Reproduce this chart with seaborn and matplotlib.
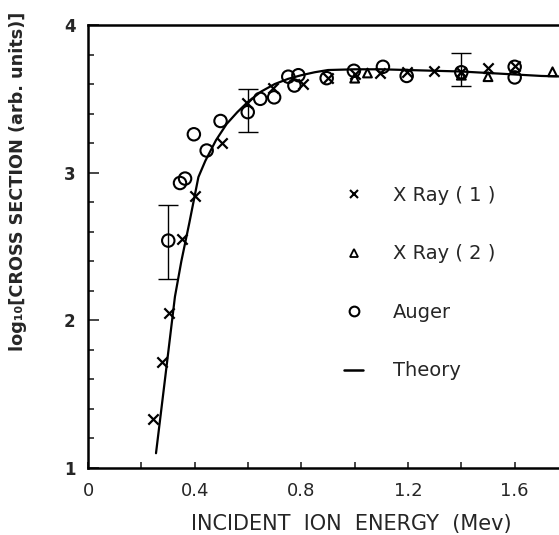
import numpy as np
import matplotlib.pyplot as plt
import seaborn as sns
from matplotlib.lines import Line2D
from matplotlib.ticker import MultipleLocator

# incident ion energy (MeV) and log10 cross section
xray1_e = [0.244, 0.276, 0.305, 0.351, 0.401, 0.501, 0.595, 0.695, 0.805,
           0.90, 1.00, 1.095, 1.195, 1.297, 1.40, 1.50, 1.60]
xray1_y = [1.33, 1.72, 2.05, 2.55, 2.84, 3.20, 3.47, 3.57, 3.60,
           3.64, 3.67, 3.675, 3.685, 3.69, 3.68, 3.71, 3.72]

xray2_e = [1.00, 1.048, 1.40, 1.50, 1.742]
xray2_y = [3.64, 3.675, 3.66, 3.65, 3.683]

auger_e = [0.301, 0.345, 0.364, 0.397, 0.445, 0.497, 0.599, 0.646, 0.698,
           0.751, 0.774, 0.789, 0.895, 0.997, 1.106, 1.195, 1.40, 1.60, 1.60]
auger_y = [2.54, 2.93, 2.96, 3.26, 3.15, 3.35, 3.41, 3.50, 3.51,
           3.65, 3.59, 3.66, 3.64, 3.69, 3.717, 3.655, 3.68, 3.717, 3.645]

# error bars on three auger points
err_e = [0.301, 0.599, 1.40]
err_y = [2.53, 3.42, 3.697]
err_d = [0.25, 0.147, 0.111]

theory_e = [0.255, 0.29, 0.326, 0.35, 0.38, 0.414, 0.44, 0.48, 0.52, 0.56,
            0.60, 0.65, 0.70, 0.75, 0.80, 0.85, 0.90, 1.0, 1.1, 1.2, 1.3,
            1.4, 1.5, 1.6, 1.7, 1.8]
theory_y = [1.10, 1.62, 2.16, 2.40, 2.66, 2.97, 3.08, 3.22, 3.33, 3.41,
            3.48, 3.55, 3.60, 3.635, 3.66, 3.68, 3.695, 3.70, 3.70, 3.695,
            3.69, 3.685, 3.675, 3.665, 3.655, 3.65]

legend_labels = ['X Ray ( 1 )', 'X Ray ( 2 )', 'Auger', 'Theory']
x_ticks = [0, 0.4, 0.8, 1.2, 1.6]
x_ticklabels = ['0', '0.4', '0.8', '1.2', '1.6']
y_ticks = [1, 2, 3, 4]

sns.set_style('ticks', {'xtick.direction': 'in', 'ytick.direction': 'in'})
plt.rcParams['font.family'] = ['DejaVu Sans']

fig = plt.figure(figsize=(5.59, 5.35), dpi=100)
ax = fig.add_axes([88 / 559, 67 / 535, 480 / 559, 443 / 535])

sns.lineplot(x=theory_e, y=theory_y, ax=ax, color='black', lw=1.6,
             sort=False, estimator=None)
sns.scatterplot(x=xray1_e, y=xray1_y, ax=ax, marker='x', s=55,
                color='black', linewidth=1.6)
sns.scatterplot(x=xray2_e, y=xray2_y, ax=ax, marker='^', s=40,
                color='black', facecolor='none', edgecolor='black', linewidth=1.5)
sns.scatterplot(x=auger_e, y=auger_y, ax=ax, marker='o', s=80,
                color='black', facecolor='none', edgecolor='black', linewidth=1.5)
ax.errorbar(err_e, err_y, yerr=err_d, fmt='none', ecolor='black',
            elinewidth=1.0, capsize=7, capthick=1.0)

ax.set_xlim(0, 1.8)
ax.set_ylim(1, 4)
ax.set_xticks(x_ticks)
ax.set_xticklabels(x_ticklabels)
ax.xaxis.set_minor_locator(MultipleLocator(0.2))
ax.set_yticks(y_ticks)
ax.yaxis.set_minor_locator(MultipleLocator(0.2))

ax.tick_params(axis='x', which='both', direction='in', length=4, width=1.2,
               labelsize=13, pad=10)
ax.tick_params(axis='y', which='major', direction='in', length=8, width=1.2,
               labelsize=12, pad=9)
ax.tick_params(axis='y', which='minor', direction='in', length=4, width=1.2)
for lab in ax.get_yticklabels():
    lab.set_fontweight('bold')

for side in ['left', 'bottom', 'top', 'right']:
    ax.spines[side].set_linewidth(1.8)
    ax.spines[side].set_color('black')

ax.set_xlabel('INCIDENT  ION  ENERGY  (Mev)', fontsize=15)
ax.xaxis.set_label_coords(0.548, -0.103)
ax.set_ylabel('log₁₀[CROSS SECTION (arb. units)]', fontsize=12.7,
              fontweight='bold')
ax.yaxis.set_label_coords(-0.128, 0.648)

handles = [
    Line2D([], [], ls='none', marker='x', ms=6, mew=1.5, color='black'),
    Line2D([], [], ls='none', marker='^', ms=6, mew=1.3, mfc='none', color='black'),
    Line2D([], [], ls='none', marker='o', ms=7, mew=1.5, mfc='none', color='black'),
    Line2D([], [], color='black', lw=1.8),
]
ax.legend(handles, legend_labels, frameon=False, fontsize=14,
          loc='upper left', bbox_to_anchor=(344 / 559, 1 - 186 / 535),
          bbox_transform=fig.transFigure, borderpad=0, borderaxespad=0,
          handlelength=1.0, handletextpad=1.5, labelspacing=2.03)

fig.savefig('out.png', dpi=100)
plt.close(fig)
